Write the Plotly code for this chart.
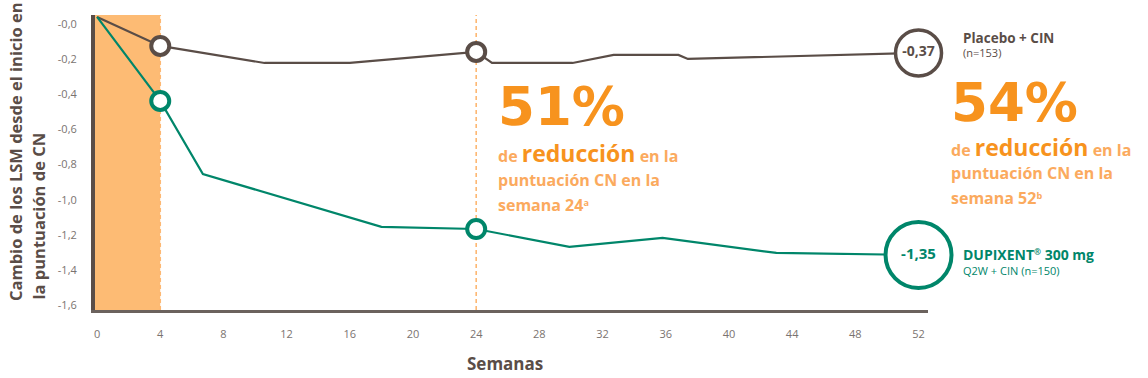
import plotly.graph_objects as go

# ---------------- data ----------------
weeks_placebo = [0, 4, 10.6, 16, 24, 25, 30.1, 32.7, 36.8, 37.4, 52]
placebo_values = [0.04, -0.125, -0.222, -0.222, -0.159, -0.222, -0.222, -0.176, -0.176, -0.199, -0.165]

weeks_dupixent = [0, 4, 6.7, 18, 24, 29.9, 35.8, 43, 52]
dupixent_values = [0.04, -0.438, -0.854, -1.155, -1.167, -1.269, -1.218, -1.303, -1.315]

highlight_weeks = [4, 24]
placebo_highlight = [-0.125, -0.159]
dupixent_highlight = [-0.438, -1.167]

end_week = [52]
placebo_end = [-0.165]
dupixent_end = [-1.315]
placebo_end_label = ["-0,37"]
dupixent_end_label = ["-1,35"]

x_ticks = list(range(0, 53, 4))
x_tick_labels = [str(t) for t in x_ticks]
y_ticks = [0, -0.2, -0.4, -0.6, -0.8, -1.0, -1.2, -1.4, -1.6]
y_tick_labels = ["-0,0", "-0,2", "-0,4", "-0,6", "-0,8", "-1,0", "-1,2", "-1,4", "-1,6"]

band_weeks = [-0.13, 4]
dashed_weeks = [4, 24]

# ---------------- styles ----------------
BROWN = "#5a4d47"
TEAL = "#00866a"
ORANGE = "#f7931e"
LIGHT_ORANGE = "#fbaa5e"
BAND = "#fdbb74"
DASH = "#fdb873"
FONT = "Open Sans"
BIG_FONT = "DejaVu Sans"

W, H = 1148, 378
L, R, T, B = 95, 928, 15, 310


def px(x):
    return (x - L) / (R - L)


def py(y):
    return (B - y) / (B - T)


fig = go.Figure()

fig.add_trace(go.Scatter(x=weeks_placebo, y=placebo_values, mode="lines",
                         line=dict(color=BROWN, width=2.2), hoverinfo="skip", showlegend=False))
fig.add_trace(go.Scatter(x=weeks_dupixent, y=dupixent_values, mode="lines",
                         line=dict(color=TEAL, width=2.2), hoverinfo="skip", showlegend=False))

fig.add_trace(go.Scatter(x=highlight_weeks, y=placebo_highlight, mode="markers",
                         marker=dict(size=18, color="white", line=dict(color=BROWN, width=4)),
                         hoverinfo="skip", showlegend=False, cliponaxis=False))
fig.add_trace(go.Scatter(x=highlight_weeks, y=dupixent_highlight, mode="markers",
                         marker=dict(size=18, color="white", line=dict(color=TEAL, width=4)),
                         hoverinfo="skip", showlegend=False, cliponaxis=False))

fig.add_trace(go.Scatter(x=end_week, y=placebo_end, mode="markers+text",
                         marker=dict(size=46, color="white", line=dict(color=BROWN, width=3.5)),
                         text=placebo_end_label, textposition="middle center",
                         textfont=dict(family=FONT, size=14, color=BROWN, weight="bold"),
                         hoverinfo="skip", showlegend=False, cliponaxis=False))
fig.add_trace(go.Scatter(x=end_week, y=dupixent_end, mode="markers+text",
                         marker=dict(size=66, color="white", line=dict(color=TEAL, width=4)),
                         text=dupixent_end_label, textposition="middle center",
                         textfont=dict(family=FONT, size=15, color=TEAL, weight="bold"),
                         hoverinfo="skip", showlegend=False, cliponaxis=False))

shapes = [dict(type="rect", xref="x", yref="paper", x0=band_weeks[0], x1=band_weeks[1],
               y0=0, y1=1, fillcolor=BAND, line=dict(width=0), layer="below")]
for wk in dashed_weeks:
    shapes.append(dict(type="line", xref="x", yref="paper", x0=wk, x1=wk, y0=0, y1=1,
                       line=dict(color=DASH, width=1.6, dash="4px,3px"), layer="below"))

annotations = []


def note(text, x, y, size, color, weight="bold", xanchor="left", yanchor="middle", angle=0,
         family=FONT):
    annotations.append(dict(text=text, x=px(x), y=py(y), xref="paper", yref="paper",
                            xanchor=xanchor, yanchor=yanchor, showarrow=False, textangle=angle,
                            font=dict(family=family, size=size, color=color, weight=weight)))


red = "<span style='font-size:23px;color:%s'>reducción</span>" % ORANGE


def small_sup(ch, size):
    return "<span style='font-size:%dpx'><sup>%s</sup></span>" % (size, ch)


# 51% block
note("51%", 496, 107, 53, ORANGE, family=BIG_FONT)
note("de " + red + " en la", 496, 153, 16, LIGHT_ORANGE)
note("puntuación CN en la", 496, 180, 16, LIGHT_ORANGE)
note("semana 24" + small_sup("a", 13), 496, 205, 16, LIGHT_ORANGE)

# 54% block
note("54%", 949, 102, 53, ORANGE, family=BIG_FONT)
note("de " + red + " en la", 949, 147, 16, LIGHT_ORANGE)
note("puntuación CN en la", 949, 173, 16, LIGHT_ORANGE)
note("semana 52" + small_sup("b", 13), 949, 198, 16, LIGHT_ORANGE)

# series labels
note("Placebo + CIN", 961, 38, 13.5, BROWN)
note("(n=153)", 961, 53, 11, BROWN, weight="normal")
note("DUPIXENT" + small_sup("®", 12) + " 300 mg", 961, 254, 14, TEAL)
note("Q2W + CIN (n=150)", 961, 270, 11, TEAL, weight="normal")

# axis titles
note("Semanas", 505, 363, 17, BROWN, xanchor="center")
note("Cambio de los LSM desde el inicio en", 15, 152, 16.5, BROWN, xanchor="center", angle=-90)
note("la puntuación de CN", 38, 302, 16.5, BROWN, xanchor="center", yanchor="bottom", angle=-90)

fig.update_layout(
    width=W, height=H, autosize=False,
    margin=dict(l=L, r=W - R, t=T, b=H - B, pad=0),
    paper_bgcolor="white", plot_bgcolor="white",
    shapes=shapes, annotations=annotations,
    xaxis=dict(range=[-0.13, 52.6], tickvals=x_ticks, ticktext=x_tick_labels,
               showgrid=False, zeroline=False, showline=True, linecolor="#6b625d", linewidth=3,
               ticks="", ticklabelstandoff=12, automargin=False,
               tickfont=dict(family=FONT, size=11, color="#7a7370")),
    yaxis=dict(range=[-1.628, 0.051], tickvals=y_ticks, ticktext=y_tick_labels,
               showgrid=False, zeroline=False, showline=True, linecolor=BROWN, linewidth=4,
               ticks="", ticklabelstandoff=12, automargin=False,
               tickfont=dict(family=FONT, size=11, color="#7a7370")),
)

fig.write_html("out.html", config={"displayModeBar": False},
               post_script="document.body.style.margin='0';")
